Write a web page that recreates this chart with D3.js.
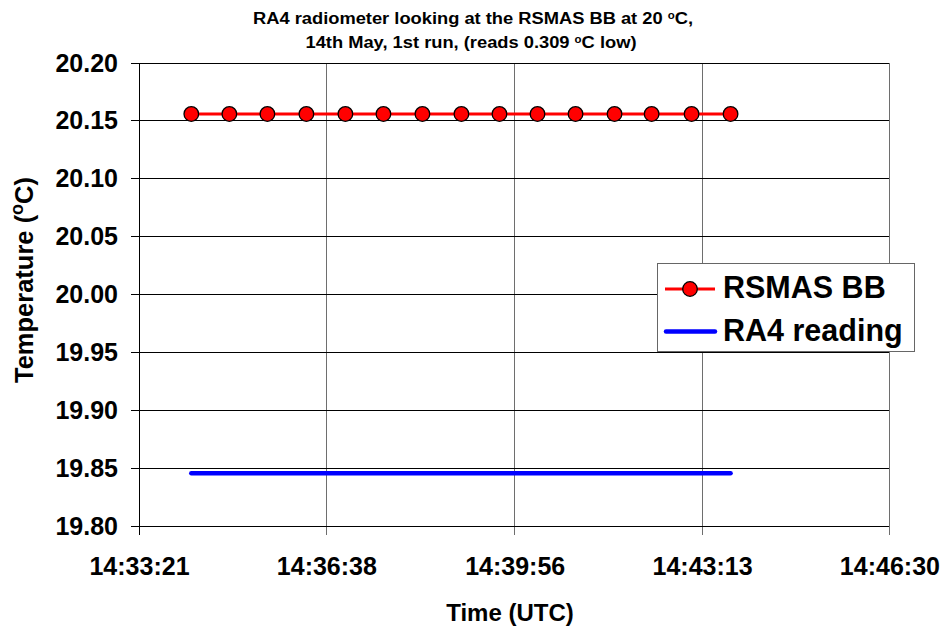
<!DOCTYPE html>
<html>
<head>
<meta charset="utf-8">
<script src="https://cdn.jsdelivr.net/npm/d3@7"></script>
<style>
  html, body { margin: 0; padding: 0; background: #fff; }
  svg { display: block; font-family: "Liberation Sans", Arial, sans-serif; font-weight: bold; }
</style>
</head>
<body>
<svg id="chart" width="948" height="632"></svg>
<script>
// ---- data ----
const sampleTimes = ["14:34:16","14:34:56","14:35:36","14:36:17","14:36:58","14:37:38","14:38:19","14:39:00",
                     "14:39:40","14:40:20","14:41:00","14:41:41","14:42:20","14:43:02","14:43:43"];
const rsmasBB = [20.156,20.156,20.156,20.156,20.156,20.156,20.156,20.156,20.156,20.156,20.156,20.156,20.156,20.156,20.156];
const ra4Reading = [19.846,19.846,19.846,19.846,19.846,19.846,19.846,19.846,19.846,19.846,19.846,19.846,19.846,19.846,19.846];
const xTickLabels = ["14:33:21","14:36:38","14:39:56","14:43:13","14:46:30"];
const yTickValues = [19.80,19.85,19.90,19.95,20.00,20.05,20.10,20.15,20.20];
const seriesNames = ["RSMAS BB","RA4 reading"];

// ---- helpers ----
const toSec = s => { const p = s.split(":").map(Number); return p[0]*3600 + p[1]*60 + p[2]; };

const svg = d3.select("#chart");
const W = 948, H = 632;
const margin = {left: 139, right: 58.6, top: 63, bottom: 105.5};
const iw = W - margin.left - margin.right, ih = H - margin.top - margin.bottom;

const x = d3.scaleLinear()
  .domain([toSec(xTickLabels[0]), toSec(xTickLabels[xTickLabels.length-1])])
  .range([0, iw]);
const y = d3.scaleLinear().domain([19.80, 20.20]).range([ih, 0]);

const g = svg.append("g").attr("transform", `translate(${margin.left},${margin.top})`);

// vertical gridlines (gray)
g.append("g").selectAll("line").data(xTickLabels.slice(1)).join("line")
  .attr("x1", d => x(toSec(d))).attr("x2", d => x(toSec(d)))
  .attr("y1", 0).attr("y2", ih + 8)
  .attr("stroke", "#6e6e6e").attr("stroke-width", 1).attr("shape-rendering", "crispEdges");

// horizontal gridlines (black)
g.append("g").selectAll("line").data(yTickValues).join("line")
  .attr("x1", -8).attr("x2", iw)
  .attr("y1", d => y(d)).attr("y2", d => y(d))
  .attr("stroke", "#000").attr("stroke-width", 1).attr("shape-rendering", "crispEdges");

// left axis line
g.append("line").attr("x1", 0).attr("x2", 0).attr("y1", 0).attr("y2", ih + 8)
  .attr("stroke", "#000").attr("stroke-width", 1).attr("shape-rendering", "crispEdges");

// y tick labels
const yAxis = d3.axisLeft(y).tickValues(yTickValues).tickFormat(d3.format(".2f")).tickSize(0).tickPadding(21);
const ya = g.append("g").call(yAxis);
ya.select(".domain").remove();
ya.selectAll("text").attr("font-size", 25).attr("font-family", "Liberation Sans, Arial, sans-serif")
  .attr("font-weight", "bold").attr("fill", "#000");

// x tick labels
const xAxis = d3.axisBottom(x).tickValues(xTickLabels.map(toSec))
  .tickFormat((d, i) => xTickLabels[i]).tickSize(0).tickPadding(31);
const xa = g.append("g").attr("transform", `translate(0,${ih})`).call(xAxis);
xa.select(".domain").remove();
xa.selectAll("text").attr("font-size", 25).attr("font-family", "Liberation Sans, Arial, sans-serif")
  .attr("font-weight", "bold").attr("fill", "#000");

// series
const redData = sampleTimes.map((t, i) => ({t: toSec(t), v: rsmasBB[i]}));
const blueData = sampleTimes.map((t, i) => ({t: toSec(t), v: ra4Reading[i]}));
const line = d3.line().x(d => x(d.t)).y(d => y(d.v));

g.append("path").datum(blueData).attr("d", line)
  .attr("fill", "none").attr("stroke", "#0000ff").attr("stroke-width", 4.5).attr("stroke-linecap", "round");
g.append("path").datum(redData).attr("d", line)
  .attr("fill", "none").attr("stroke", "#ff0000").attr("stroke-width", 3);
g.append("g").selectAll("circle").data(redData).join("circle")
  .attr("cx", d => x(d.t)).attr("cy", d => y(d.v)).attr("r", 7.3)
  .attr("fill", "#ff0000").attr("stroke", "#000").attr("stroke-width", 1.3);

// title
const t1 = svg.append("text").attr("x", 473).attr("y", 24).attr("text-anchor", "middle")
  .attr("font-size", 16).attr("textLength", 440).attr("lengthAdjust", "spacingAndGlyphs");
t1.append("tspan").text("RA4 radiometer looking at the RSMAS BB at 20 ");
t1.append("tspan").attr("font-size", 10).attr("dy", -5).text("o");
t1.append("tspan").attr("dy", 5).text("C,");
const t2 = svg.append("text").attr("x", 471).attr("y", 48).attr("text-anchor", "middle")
  .attr("font-size", 16).attr("textLength", 331).attr("lengthAdjust", "spacingAndGlyphs");
t2.append("tspan").text("14th May, 1st run, (reads 0.309 ");
t2.append("tspan").attr("font-size", 10).attr("dy", -5).text("o");
t2.append("tspan").attr("dy", 5).text("C low)");

// axis titles
svg.append("text").attr("x", 510).attr("y", 621).attr("text-anchor", "middle")
  .attr("font-size", 24).text("Time (UTC)");
const yl = svg.append("text").attr("transform", "translate(33,280) rotate(-90)").attr("text-anchor", "middle")
  .attr("font-size", 25.5);
yl.append("tspan").text("Temperature (");
yl.append("tspan").attr("font-size", 18).attr("dy", -10).text("o");
yl.append("tspan").attr("dy", 10).text("C)");

// legend
const lg = svg.append("g").attr("transform", "translate(657,263)");
lg.append("rect").attr("x", 0.5).attr("y", 0.5).attr("width", 257).attr("height", 88)
  .attr("fill", "#fff").attr("stroke", "#666").attr("stroke-width", 1);
lg.append("line").attr("x1", 8).attr("x2", 58).attr("y1", 26).attr("y2", 26)
  .attr("stroke", "#ff0000").attr("stroke-width", 3);
lg.append("circle").attr("cx", 33).attr("cy", 26).attr("r", 7.3)
  .attr("fill", "#ff0000").attr("stroke", "#000").attr("stroke-width", 1.3);
lg.append("line").attr("x1", 9).attr("x2", 58).attr("y1", 68.5).attr("y2", 68.5)
  .attr("stroke", "#0000ff").attr("stroke-width", 4.5).attr("stroke-linecap", "round");
lg.selectAll("text.leg").data(seriesNames).join("text").attr("class", "leg")
  .attr("x", 66).attr("y", (d, i) => i === 0 ? 35 : 78)
  .attr("font-size", 30.5).text(d => d);
</script>
</body>
</html>
